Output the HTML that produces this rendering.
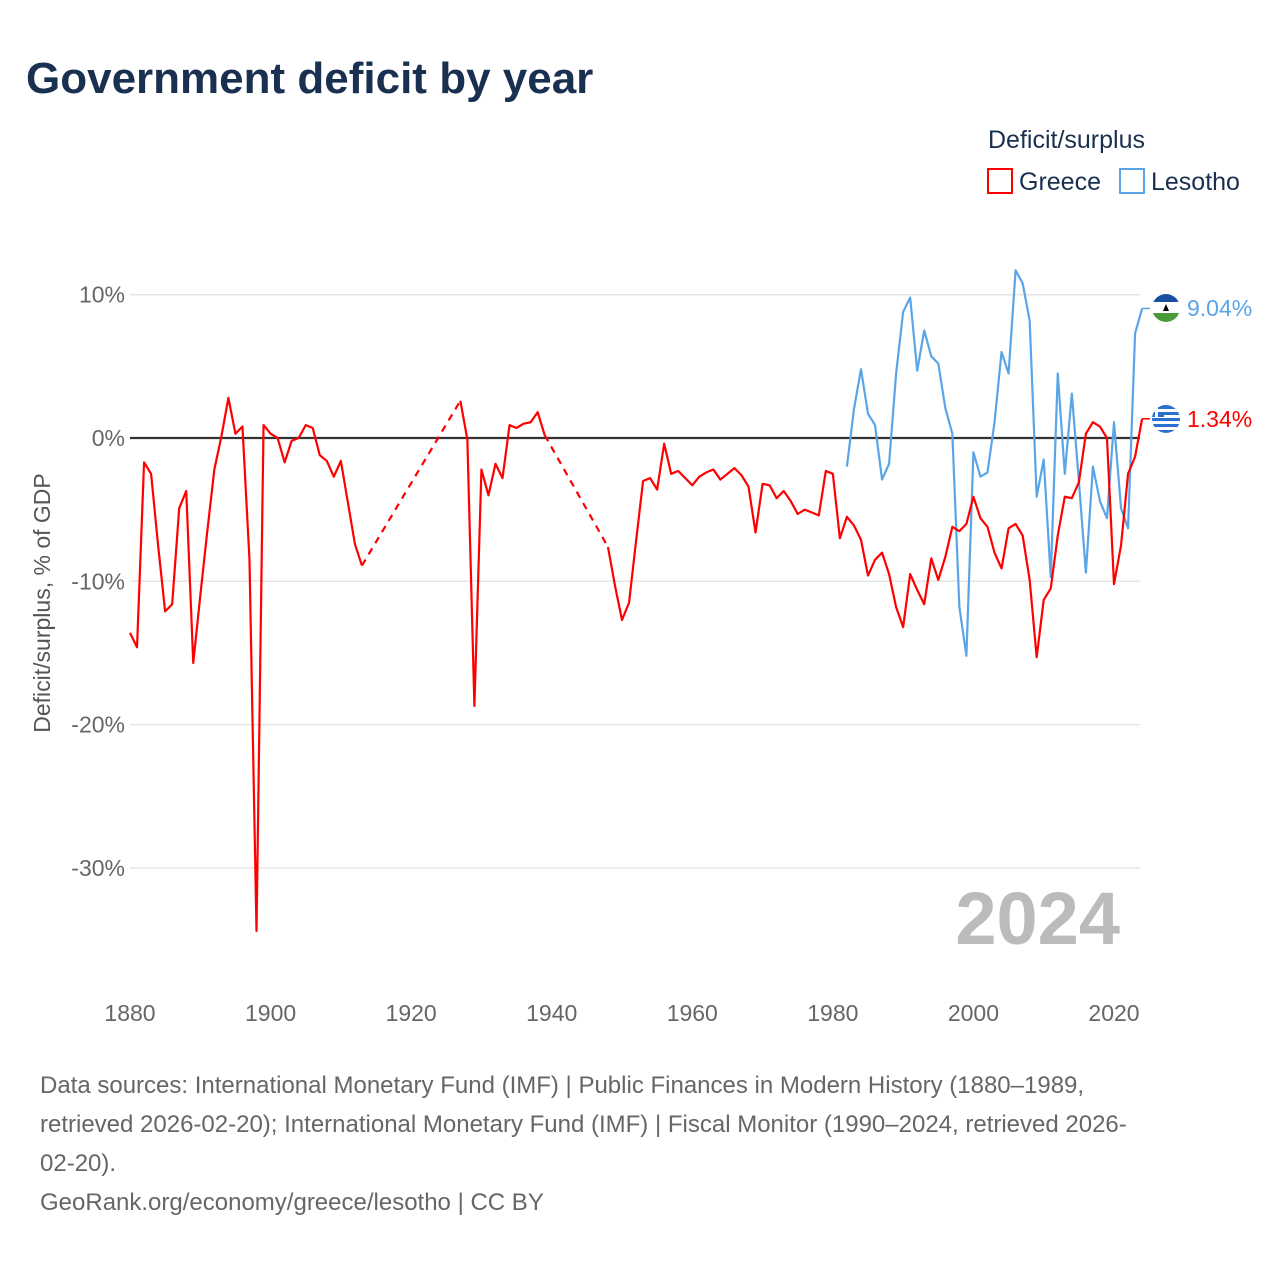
<!DOCTYPE html>
<html><head><meta charset="utf-8"><style>
body{margin:0;background:#fff;}
svg text{font-family:"Liberation Sans",sans-serif;}
</style></head><body>
<svg id="chart" width="1280" height="1280" xmlns="http://www.w3.org/2000/svg">
<rect width="1280" height="1280" fill="#fff"/>
<text x="26" y="93" font-size="44" font-weight="bold" fill="#1a3050">Government deficit by year</text>
<text x="988" y="148" font-size="25" fill="#1a3050">Deficit/surplus</text>
<g>
<rect x="988" y="169" width="24" height="24" fill="none" stroke="#f00" stroke-width="2"/>
<text x="1019" y="190" font-size="25" fill="#1a3050">Greece</text></g>
<g>
<rect x="1120" y="169" width="24" height="24" fill="none" stroke="#5aa5e8" stroke-width="2"/>
<text x="1151" y="190" font-size="25" fill="#1a3050">Lesotho</text></g>
<g id="grid"></g>
<g id="xticks"></g>
<text transform="translate(50,603) rotate(-90)" text-anchor="middle" font-size="23" fill="#555">Deficit/surplus, % of GDP</text>
<text x="1120" y="944" text-anchor="end" font-size="74" font-weight="bold" fill="#bbb">2024</text>
<g id="series"></g>
<defs><clipPath id="c1"><circle cx="1166" cy="308" r="14"/></clipPath><clipPath id="c2"><circle cx="1166" cy="419" r="14"/></clipPath></defs>
<g clip-path="url(#c1)">
<rect x="1150" y="292" width="32" height="10" fill="#1a4fa0"/><rect x="1150" y="302" width="32" height="11" fill="#fff"/><rect x="1150" y="313" width="32" height="12" fill="#4b9b3a"/>
<path d="M1163 311 L1166 304 L1169 311 Z" fill="#000"/></g>
<g clip-path="url(#c2)">
<rect x="1150" y="403" width="32" height="32" fill="#2b6fd0"/>
<rect x="1150" y="409" width="32" height="3" fill="#fff"/><rect x="1150" y="415" width="32" height="3" fill="#fff"/><rect x="1150" y="421" width="32" height="3" fill="#fff"/><rect x="1150" y="427" width="32" height="3" fill="#fff"/>
<rect x="1150" y="403" width="14" height="14" fill="#2b6fd0"/><rect x="1150" y="409" width="14" height="3" fill="#fff"/><rect x="1155" y="403" width="3" height="14" fill="#fff"/></g>
<text x="1187" y="316" font-size="23" fill="#5aa5e8">9.04%</text>
<text x="1187" y="427" font-size="23" fill="#f00">1.34%</text>
<g font-size="24" fill="#666">
<text x="40" y="1093">Data sources: International Monetary Fund (IMF) | Public Finances in Modern History (1880–1989,</text>
<text x="40" y="1132">retrieved 2026-02-20); International Monetary Fund (IMF) | Fiscal Monitor (1990–2024, retrieved 2026-</text>
<text x="40" y="1171">02-20).</text>
<text x="40" y="1210">GeoRank.org/economy/greece/lesotho | CC BY</text></g>
</svg>
<script>
const yTicks=[10,0,-10,-20,-30];
const xTicks=[1880,1900,1920,1940,1960,1980,2000,2020];
const greeceYears=[1880,1881,1882,1883,1884,1885,1886,1887,1888,1889,1890,1891,1892,1893,1894,1895,1896,1897,1898,1899,1900,1901,1902,1903,1904,1905,1906,1907,1908,1909,1910,1911,1912,1913,1927,1928,1929,1930,1931,1932,1933,1934,1935,1936,1937,1938,1939,1948,1949,1950,1951,1952,1953,1954,1955,1956,1957,1958,1959,1960,1961,1962,1963,1964,1965,1966,1967,1968,1969,1970,1971,1972,1973,1974,1975,1976,1977,1978,1979,1980,1981,1982,1983,1984,1985,1986,1987,1988,1989,1990,1991,1992,1993,1994,1995,1996,1997,1998,1999,2000,2001,2002,2003,2004,2005,2006,2007,2008,2009,2010,2011,2012,2013,2014,2015,2016,2017,2018,2019,2020,2021,2022,2023,2024];
const greeceValues=[-13.6,-14.6,-1.7,-2.5,-7.5,-12.1,-11.6,-4.9,-3.7,-15.7,-11,-6.5,-2.2,0.1,2.8,0.3,0.8,-8.5,-34.4,0.9,0.3,0,-1.7,-0.2,0,0.9,0.7,-1.2,-1.6,-2.7,-1.6,-4.5,-7.4,-8.9,2.6,-0.1,-18.7,-2.2,-4.0,-1.8,-2.8,0.9,0.7,1.0,1.1,1.8,0.2,-7.6,-10.3,-12.7,-11.5,-7.2,-3.0,-2.8,-3.6,-0.4,-2.5,-2.3,-2.8,-3.3,-2.7,-2.4,-2.2,-2.9,-2.5,-2.1,-2.6,-3.4,-6.6,-3.2,-3.3,-4.2,-3.7,-4.4,-5.3,-5.0,-5.2,-5.4,-2.3,-2.5,-7.0,-5.5,-6.1,-7.1,-9.6,-8.5,-8.0,-9.5,-11.8,-13.2,-9.5,-10.6,-11.6,-8.4,-9.9,-8.3,-6.2,-6.5,-6.0,-4.1,-5.6,-6.2,-8.0,-9.1,-6.3,-6.0,-6.8,-9.9,-15.3,-11.3,-10.5,-6.8,-4.1,-4.2,-3.1,0.3,1.1,0.8,0.0,-10.2,-7.5,-2.5,-1.3,1.34];
const lesothoYears=[1982,1983,1984,1985,1986,1987,1988,1989,1990,1991,1992,1993,1994,1995,1996,1997,1998,1999,2000,2001,2002,2003,2004,2005,2006,2007,2008,2009,2010,2011,2012,2013,2014,2015,2016,2017,2018,2019,2020,2021,2022,2023,2024];
const lesothoValues=[-2.0,2.0,4.8,1.7,0.9,-2.9,-1.8,4.5,8.8,9.8,4.7,7.5,5.7,5.2,2.1,0.3,-11.8,-15.2,-1.0,-2.7,-2.4,1.1,6.0,4.5,11.7,10.8,8.2,-4.1,-1.5,-9.7,4.5,-2.5,3.1,-3.0,-9.4,-2.0,-4.4,-5.6,1.1,-4.9,-6.3,7.3,9.04];
const NS='http://www.w3.org/2000/svg';
const sx=y=>130+(y-1880)*984/140;
const sy=v=>438-v*14.33;
function mk(tag,attrs,parent){const e=document.createElementNS(NS,tag);for(const k in attrs)e.setAttribute(k,attrs[k]);parent.appendChild(e);return e;}
const grid=document.getElementById('grid');
yTicks.forEach(t=>{
  const l=mk('line',{x1:130,x2:1140,y1:sy(t),y2:sy(t),stroke:'#e6e6e6','stroke-width':1.5},grid);
  
  
  const tx=mk('text',{x:125,y:sy(t)+8,'text-anchor':'end','font-size':23,fill:'#666'},grid);
  tx.textContent=t+'%';
  
  
});
const xt=document.getElementById('xticks');
xTicks.forEach(t=>{
  const tx=mk('text',{x:sx(t),y:1021,'text-anchor':'middle','font-size':23,fill:'#666'},xt);
  tx.textContent=t;
  
  
});
const sg=document.getElementById('series');
function draw(years,vals,color,name){
  const g=mk('g',{},sg);
  
  
  let d='';
  for(let i=0;i<years.length;i++){
    if(i>0&&years[i]-years[i-1]>1){
      const dl=mk('line',{x1:sx(years[i-1]),y1:sy(vals[i-1]),x2:sx(years[i]),y2:sy(vals[i]),stroke:color,'stroke-width':2.2,'stroke-dasharray':'7,6'},g);
      
      
      d+='M'+sx(years[i])+' '+sy(vals[i]);
    } else d+=(i?'L':'M')+sx(years[i])+' '+sy(vals[i]);
  }
  const p=mk('path',{d:d,fill:'none',stroke:color,'stroke-width':2.2,'stroke-linejoin':'round'},g);
  
  
  const n=years.length-1;
  const c=mk('line',{x1:sx(years[n]),y1:sy(vals[n]),x2:1150,y2:sy(vals[n]),stroke:color,'stroke-width':1.5},g);
  
  
}
const zl=mk('line',{x1:130,x2:1140,y1:sy(0),y2:sy(0),stroke:'#333','stroke-width':2.2},grid);


draw(lesothoYears,lesothoValues,'#5aa5e8','lesotho');
draw(greeceYears,greeceValues,'#f00','greece');
</script>
</body></html>
